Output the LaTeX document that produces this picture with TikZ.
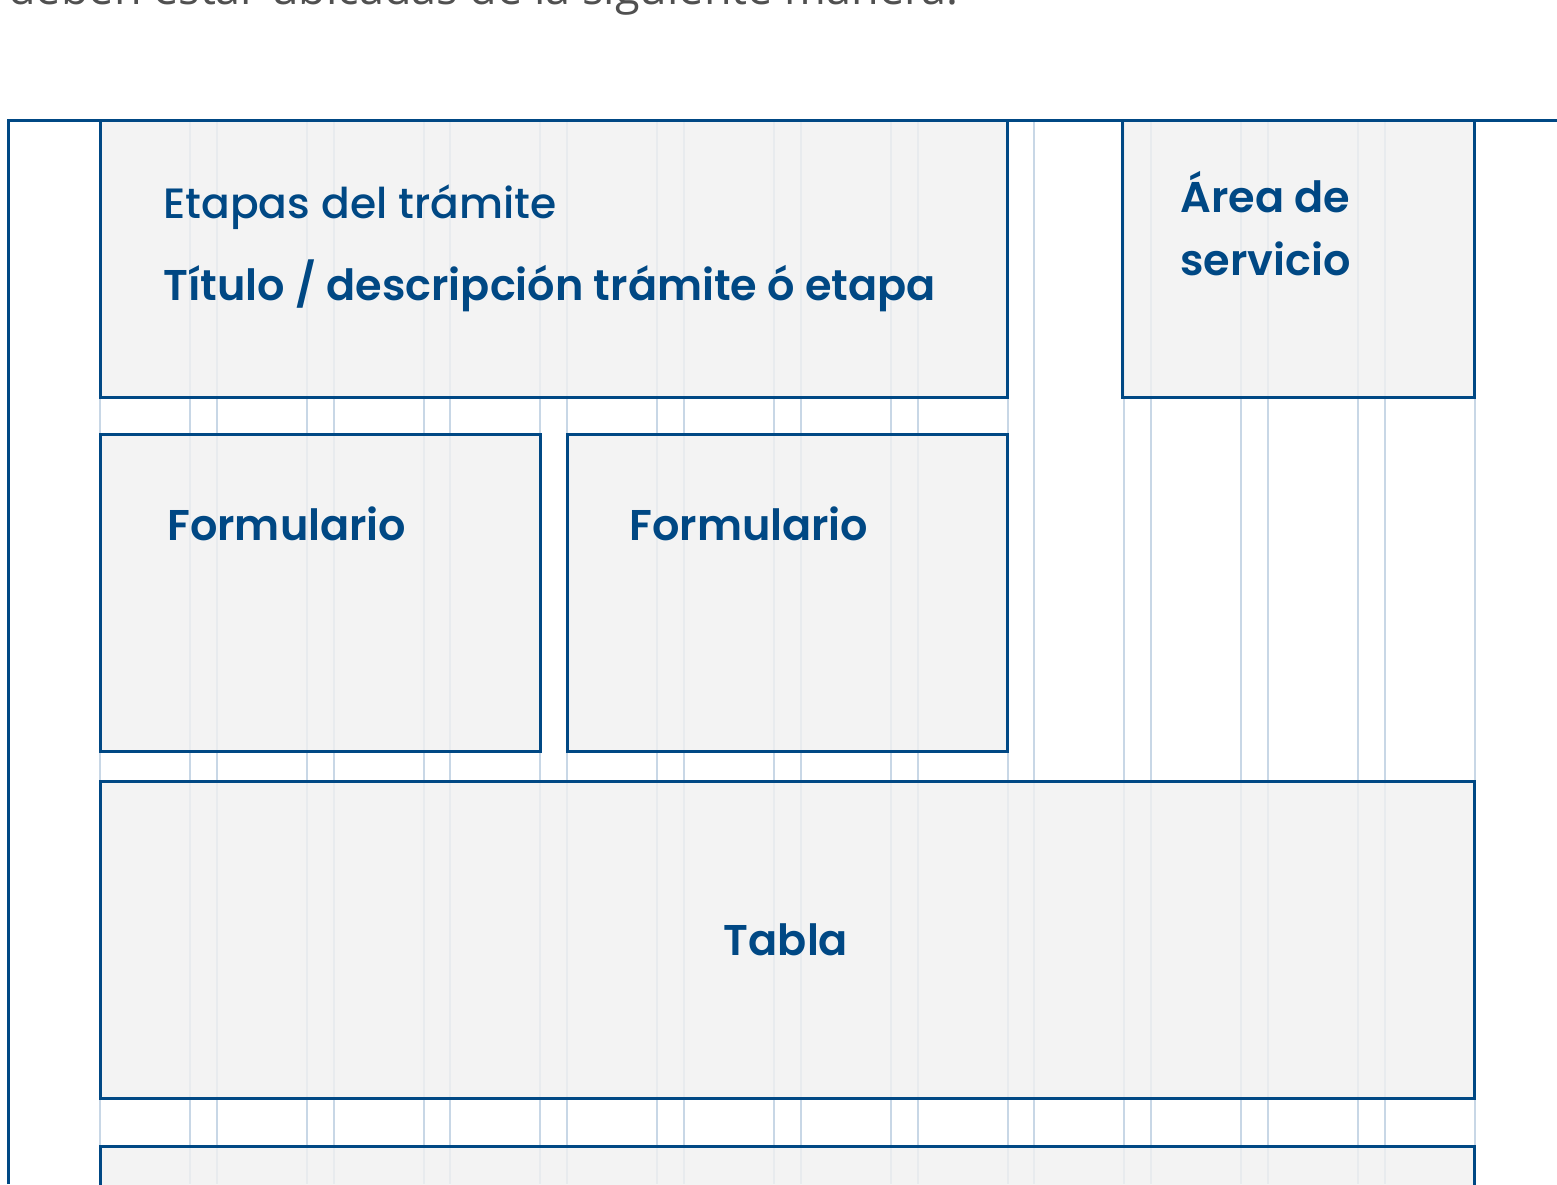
\documentclass[tikz,border=0pt]{standalone}
\usepackage{fontspec}
\setmainfont{Poppins}
\newfontfamily\semi{Poppins SemiBold}
\newfontfamily\medio{Poppins Medium}
\newfontfamily\introfont{Open Sans}
\definecolor{azul}{HTML}{004884}
\definecolor{gris}{HTML}{F0F0F0}
\definecolor{rejilla}{HTML}{C8D7E6}
\definecolor{texto}{HTML}{505050}

\begin{document}
\begin{tikzpicture}[x=0.5pt,y=-0.5pt,
    caja/.style={draw=azul,line width=1.5pt,fill=gris,fill opacity=0.8,
        anchor=north west,inner sep=0pt,outer sep=0pt},
    etiqueta/.style={text=azul,font=\fontsize{21.7}{26}\selectfont,anchor=base west,inner sep=0pt},
    negrita/.style={etiqueta,font=\semi\fontsize{21.5}{26}\selectfont}]
\useasboundingbox (0,0) rectangle (1557,1184);
\clip (0,0) rectangle (1557,1184);
% texto de arriba, cortado
\node[anchor=base west,inner sep=0pt,text=texto,font=\introfont\fontsize{22.5}{27}\selectfont]
    (intro) at (8,4) {deben estar ubicadas de la siguiente manera:};
% rejilla de 12 columnas
\foreach \k in {0,...,11}
{
    \draw[rejilla,line width=1pt] (100+\k*116.8,120) -- (100+\k*116.8,1184);
    \draw[rejilla,line width=1pt] (190+\k*116.8,120) -- (190+\k*116.8,1184);
}
% cajas
\node[caja,minimum width=453.5pt,minimum height=138.5pt] (etapas) at (100,120) {};
\node[caja,minimum width=176pt,minimum height=138.5pt] (area) at (1122,120) {};
\node[caja,minimum width=220pt,minimum height=158.5pt] (form1) at (100,434) {};
\node[caja,minimum width=220pt,minimum height=158.5pt] (form2) at (567,434) {};
\node[caja,minimum width=687pt,minimum height=158.5pt] (tabla) at (100,781) {};
\node[caja,minimum width=687pt,minimum height=158.5pt] (pie) at (100,1146) {};
\draw[azul,line width=1.5pt] (8,1184) -- (8,120) -- (1557,120);
% textos
\node[etiqueta,font=\medio\fontsize{21.2}{26}\selectfont] (etapastxt) at (163,218) {Etapas del trámite};
\node[negrita] (titulo) at (163,300) {Título / descripción trámite ó etapa};
\node[negrita] (areatxt1) at (1180,212) {Área de};
\node[negrita] (areatxt2) at (1180,275) {servicio};
\node[negrita] (form1txt) at (167,540) {Formulario};
\node[negrita] (form2txt) at (629,540) {Formulario};
\node[negrita,anchor=base] (tablatxt) at (786,955) {Tabla};
\end{tikzpicture}
\end{document}
